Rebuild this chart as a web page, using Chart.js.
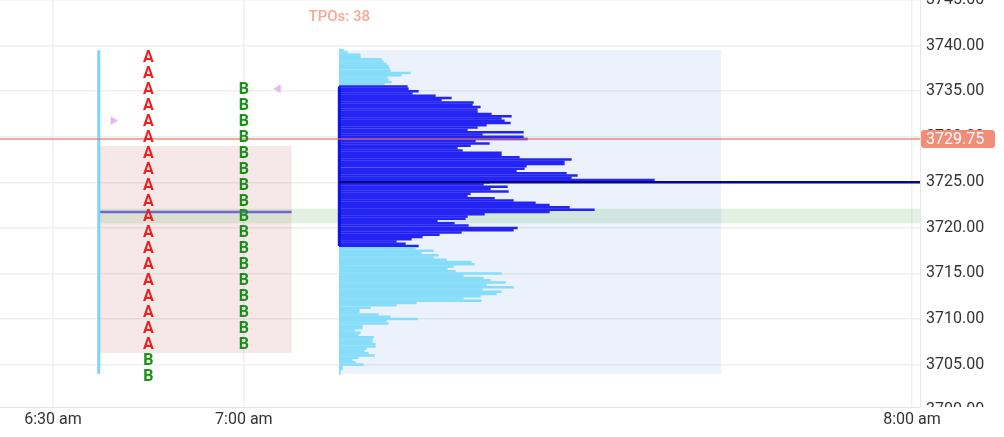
<!DOCTYPE html>
<html>
<head>
<meta charset="utf-8">
<title>TPO profile</title>
<script src="https://cdn.jsdelivr.net/npm/chart.js"></script>
<style>
  html, body { margin: 0; padding: 0; background: #fff; }
  #wrap { width: 1004px; height: 437px; }
</style>
</head>
<body>
<div id="wrap"><canvas id="tpoChart" width="1004" height="437"></canvas></div>
<script>
// x axis is in session slots (6:30 = 0), not linear clock time
const timeTickSlots = [0, 2, 9];
const timeTickLabels = ['6:30 am', '7:00 am', '8:00 am'];
const priceTicks = [3700, 3705, 3710, 3715, 3720, 3725, 3730, 3735, 3740, 3745];

// TPO letters, one entry per 1.75 pt level (top to bottom)
const tpoPrices = [3738.75, 3737.00, 3735.25, 3733.50, 3731.75, 3730.00, 3728.25,
  3726.50, 3724.75, 3723.00, 3721.25, 3719.50, 3717.75, 3716.00, 3714.25, 3712.50,
  3710.75, 3709.00, 3707.25, 3705.50, 3703.75];
const tpoColumn1 = ['A','A','A','A','A','A','A','A','A','A','A','A','A','A','A','A','A','A','A','B','B'];
const tpoColumn2 = ['','','B','B','B','B','B','B','B','B','B','B','B','B','B','B','B','B','B','',''];
const tpoSlots = [1, 2];

// volume profile, 0.25 pt rows from the high down
const profileHigh = 3739.5;
const profileTick = 0.25;
const profileVolume = [
  4, 8, 21, 21, 42, 44, 47, 49, 50, 51,
  71, 62, 48, 49, 52, 45, 68, 69, 79, 73,
  96, 112, 102, 134, 133, 141, 138, 138, 152, 172,
  162, 165, 171, 147, 138, 128, 184, 143, 184, 188,
  136, 150, 131, 118, 123, 162, 162, 180, 232, 225,
  225, 187, 185, 177, 227, 238, 232, 315, 150, 144,
  168, 151, 169, 131, 128, 155, 174, 196, 210, 230,
  255, 210, 145, 128, 126, 98, 115, 129, 178, 174,
  122, 100, 83, 72, 57, 66, 79, 76, 94, 82,
  99, 94, 107, 132, 135, 114, 108, 116, 162, 124,
  144, 151, 166, 147, 174, 143, 162, 157, 141, 124,
  142, 77, 57, 31, 20, 20, 39, 51, 78, 47,
  49, 23, 23, 15, 21, 19, 34, 33, 33, 36,
  36, 27, 25, 29, 35, 19, 13, 16, 24, 3,
  3, 1, 1
];

const vaHigh = 3735.5, vaLow = 3718.0;
const pocPrice = 3725.0;
const lastPrice = 3729.75;
const rangeHigh = 3739.5, rangeLow = 3704.0;
const ibHigh = 3729.0, ibLow = 3706.25, ibMid = 3721.75;
const bandHigh = 3722.1, bandLow = 3720.5;
const markers = [{ x: 0.63, y: 3731.75 }, { x: 2.36, y: 3735.25 }];

const xMin = -0.555, xMax = 9.084;
const yMin = 3700.35, yMax = 3745;
const rangeSlot = 0.48, ibEndSlot = 2.5;
const profileSlot = 3, profileEndSlot = 7;
const volPerSlot = 95.44;

Chart.defaults.font.family = 'Roboto, "Open Sans", sans-serif';

const profileData = profileVolume.map((v, i) => ({ x: v, y: profileHigh - i * profileTick }));
const tpoCount = tpoColumn1.concat(tpoColumn2).filter(l => l).length;

const overlay = {
  id: 'overlay',
  beforeDatasetsDraw(chart) {
    const { ctx, chartArea: a, scales: { x, y } } = chart;
    const box = (x1, x2, p1, p2, color) => {
      const l = x.getPixelForValue(x1), r = x.getPixelForValue(x2);
      const t = y.getPixelForValue(p1), b = y.getPixelForValue(p2);
      ctx.fillStyle = color;
      ctx.fillRect(l, t, r - l, b - t);
    };
    ctx.save();
    ctx.beginPath();
    ctx.rect(a.left, a.top, a.width, a.height);
    ctx.clip();
    box(profileSlot, profileEndSlot, rangeHigh, rangeLow, 'rgba(120,170,230,0.15)');
    box(rangeSlot, ibEndSlot, ibHigh, ibLow, 'rgba(200,120,120,0.17)');
    box(rangeSlot, xMax, bandHigh, bandLow, 'rgba(90,170,90,0.17)');
    ctx.restore();
  },
  afterDatasetsDraw(chart) {
    const { ctx, chartArea: a, scales: { x, y } } = chart;
    const colors = { A: '#f01e1e', B: '#199119' };
    ctx.save();
    ctx.font = 'bold 16px Roboto';
    ctx.textAlign = 'center';
    ctx.textBaseline = 'middle';
    [tpoColumn1, tpoColumn2].forEach((col, c) => {
      col.forEach((letter, i) => {
        if (!letter) return;
        ctx.fillStyle = colors[letter];
        ctx.fillText(letter, x.getPixelForValue(tpoSlots[c]), y.getPixelForValue(tpoPrices[i]) + 1);
      });
    });
    ctx.font = '500 15px Roboto';
    ctx.fillStyle = '#f7a895';
    ctx.fillText('TPOs: ' + tpoCount, x.getPixelForValue(profileSlot), a.top + 17);
    ctx.restore();
  },
  afterDraw(chart) {
    const { ctx, chartArea: a, scales: { y } } = chart;
    ctx.save();
    // partly hidden tick labels outside the range
    ctx.beginPath();
    ctx.rect(y.left, a.top, y.width, a.height);
    ctx.clip();
    ctx.font = '16px Roboto';
    ctx.fillStyle = '#333';
    ctx.textBaseline = 'middle';
    ctx.textAlign = 'left';
    priceTicks.filter(v => v < y.min).forEach(v => {
      ctx.fillText(v.toFixed(2), y.left + 6, y.getPixelForValue(v));
    });
    ctx.restore();

    // last price tag
    const py = y.getPixelForValue(lastPrice);
    ctx.save();
    ctx.fillStyle = '#f38d79';
    ctx.beginPath();
    ctx.roundRect(y.left + 1, py - 9, 74, 18, 3);
    ctx.fill();
    ctx.fillStyle = '#fff';
    ctx.font = '16px Roboto';
    ctx.textBaseline = 'middle';
    ctx.fillText(lastPrice.toFixed(2), y.left + 6, py + 1);
    ctx.restore();
  }
};

const line = (label, data, color, width, order, axis) => ({
  type: 'line', label, data, borderColor: color, borderWidth: width,
  pointRadius: 0, fill: false, tension: 0, order,
  xAxisID: axis || 'x', yAxisID: 'y'
});

new Chart(document.getElementById('tpoChart'), {
  type: 'scatter',
  data: {
    datasets: [
      line('Last', [{ x: xMin, y: lastPrice }, { x: xMax, y: lastPrice }], 'rgba(240,110,95,0.6)', 2, 0),
      line('POC', [{ x: profileSlot, y: pocPrice }, { x: xMax, y: pocPrice }], '#06068c', 2.5, 1),
      line('Range', [{ x: rangeSlot, y: rangeHigh }, { x: rangeSlot, y: rangeLow }], '#7ad3fa', 3, 2),
      line('IB mid', [{ x: rangeSlot, y: ibMid }, { x: ibEndSlot, y: ibMid }], 'rgba(70,70,210,0.75)', 2.5, 3),
      line('VA', [{ x: 0, y: vaHigh }, { x: 0, y: vaLow }], '#1212e6', 3, 4, 'x2'),
      {
        type: 'scatter', label: 'Markers', data: markers,
        pointStyle: 'triangle', pointRotation: [90, -90], pointRadius: 5,
        backgroundColor: '#e9b6f2', borderWidth: 0, order: 5,
        xAxisID: 'x', yAxisID: 'y'
      },
      {
        type: 'bar', label: 'Volume', indexAxis: 'y', data: profileData,
        xAxisID: 'x2', yAxisID: 'y',
        backgroundColor: c => (c.raw && c.raw.y <= vaHigh && c.raw.y >= vaLow) ? '#2424f5' : '#86ddfa',
        borderWidth: 0, barThickness: 1.85, grouped: false, order: 10
      }
    ]
  },
  options: {
    responsive: false,
    animation: false,
    events: [],
    layout: { padding: 0, autoPadding: false },
    plugins: { legend: { display: false }, tooltip: { enabled: false } },
    scales: {
      x: {
        type: 'linear', position: 'bottom', min: xMin, max: xMax, offset: false,
        afterBuildTicks: s => { s.ticks = timeTickSlots.map(v => ({ value: v })); },
        afterFit: s => { s.height = 30; s.paddingLeft = 0; s.paddingRight = 0; },
        ticks: {
          autoSkip: false, maxRotation: 0, padding: 3, color: '#333',
          font: { size: 16 },
          callback: (v, i) => timeTickLabels[i]
        },
        grid: { color: '#efefef', lineWidth: 1.5, drawTicks: false, offset: false },
        border: { color: '#e6e6e6' }
      },
      x2: {
        type: 'linear', display: false, offset: false,
        min: (xMin - profileSlot) * volPerSlot, max: (xMax - profileSlot) * volPerSlot
      },
      y: {
        type: 'linear', position: 'right', min: yMin, max: yMax, offset: false,
        afterBuildTicks: s => { s.ticks = priceTicks.filter(v => v >= s.min && v <= s.max).map(v => ({ value: v })); },
        afterFit: s => { s.width = 84; s.paddingTop = 0; s.paddingBottom = 0; },
        ticks: {
          autoSkip: false, padding: 6, color: '#333',
          font: { size: 16 },
          callback: v => v.toFixed(2)
        },
        grid: { color: '#efefef', lineWidth: 1.5, drawTicks: false, offset: false },
        border: { color: '#e6e6e6' }
      }
    }
  },
  plugins: [overlay]
});
</script>
</body>
</html>
